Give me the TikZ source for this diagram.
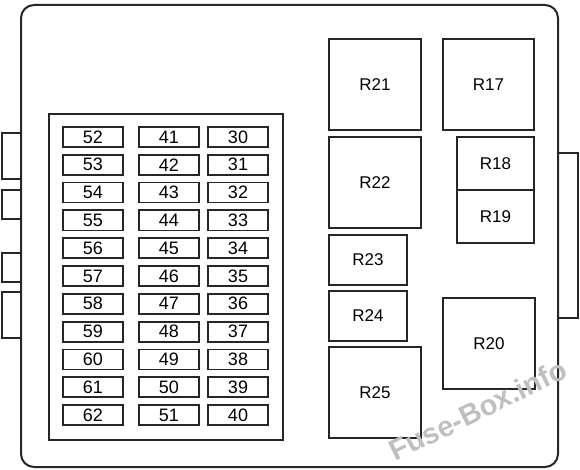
\documentclass[tikz,border=0pt]{standalone}
\usepackage{fontspec}
\setmainfont{Liberation Sans}
\begin{document}
\begin{tikzpicture}[x=1pt,y=-1pt,
  outer/.style={draw=black!85,line width=2pt},
  panel/.style={draw=black!85,line width=1.6pt},
  tab/.style={draw=black!85,line width=1.6pt},
  fuse/.style={draw=black!85,line width=1.8pt,minimum width=60pt,minimum height=20pt,inner sep=0pt,font=\fontsize{18}{18}\selectfont},
  relay/.style={draw=black!85,line width=1.5pt,inner sep=0pt,font=\fontsize{17}{17}\selectfont},
  wmark/.style={text=black!25,font=\bfseries\fontsize{29}{29}\selectfont,rotate=26}]
\useasboundingbox (0,0) rectangle (580,470);
% tabs
\draw[tab] (21,133) -- (2,133) -- (2,179) -- (21,179);
\draw[tab] (21,190) -- (2,190) -- (2,219) -- (21,219);
\draw[tab] (21,253) -- (2,253) -- (2,282) -- (21,282);
\draw[tab] (21,292) -- (2,292) -- (2,338) -- (21,338);
\draw[tab] (558,153) -- (578,153) -- (578,318) -- (558,318);
% outer case
\draw[outer,rounded corners=13pt] (21,5) rectangle (558,467);
% fuse panel
\draw[panel] (49,114) rectangle (283,440);
\foreach \a/\b/\c [count=\i from 0] in {52/41/30,53/42/31,54/43/32,55/44/33,56/45/34,57/46/35,58/47/36,59/48/37,60/49/38,61/50/39,62/51/40}{
  \node[fuse] (f\a) at (93,137+27.8*\i) {\a};
  \node[fuse] (f\b) at (169,137+27.8*\i) {\b};
  \node[fuse] (f\c) at (238,137+27.8*\i) {\c};
}
% relays
\node[relay,minimum width=92pt,minimum height=91pt] (r21) at (375,84.5) {R21};
\node[relay,minimum width=91pt,minimum height=91pt] (r17) at (488.5,84.5) {R17};
\node[relay,minimum width=92pt,minimum height=91pt] (r22) at (375,182.5) {R22};
\node[relay,minimum width=77pt,minimum height=53pt] (r18) at (495.5,163.5) {R18};
\node[relay,minimum width=77pt,minimum height=53pt] (r19) at (495.5,216.5) {R19};
\node[relay,minimum width=78pt,minimum height=50pt] (r23) at (368,260) {R23};
\node[relay,minimum width=78pt,minimum height=50pt] (r24) at (368,316) {R24};
\node[relay,minimum width=92pt,minimum height=91pt] (r25) at (375,392.5) {R25};
\node[relay,minimum width=92pt,minimum height=91pt] (r20) at (489,343.5) {R20};
% watermark
\node[wmark] (wm) at (478,410) {Fuse-Box.info};
\end{tikzpicture}
\end{document}
